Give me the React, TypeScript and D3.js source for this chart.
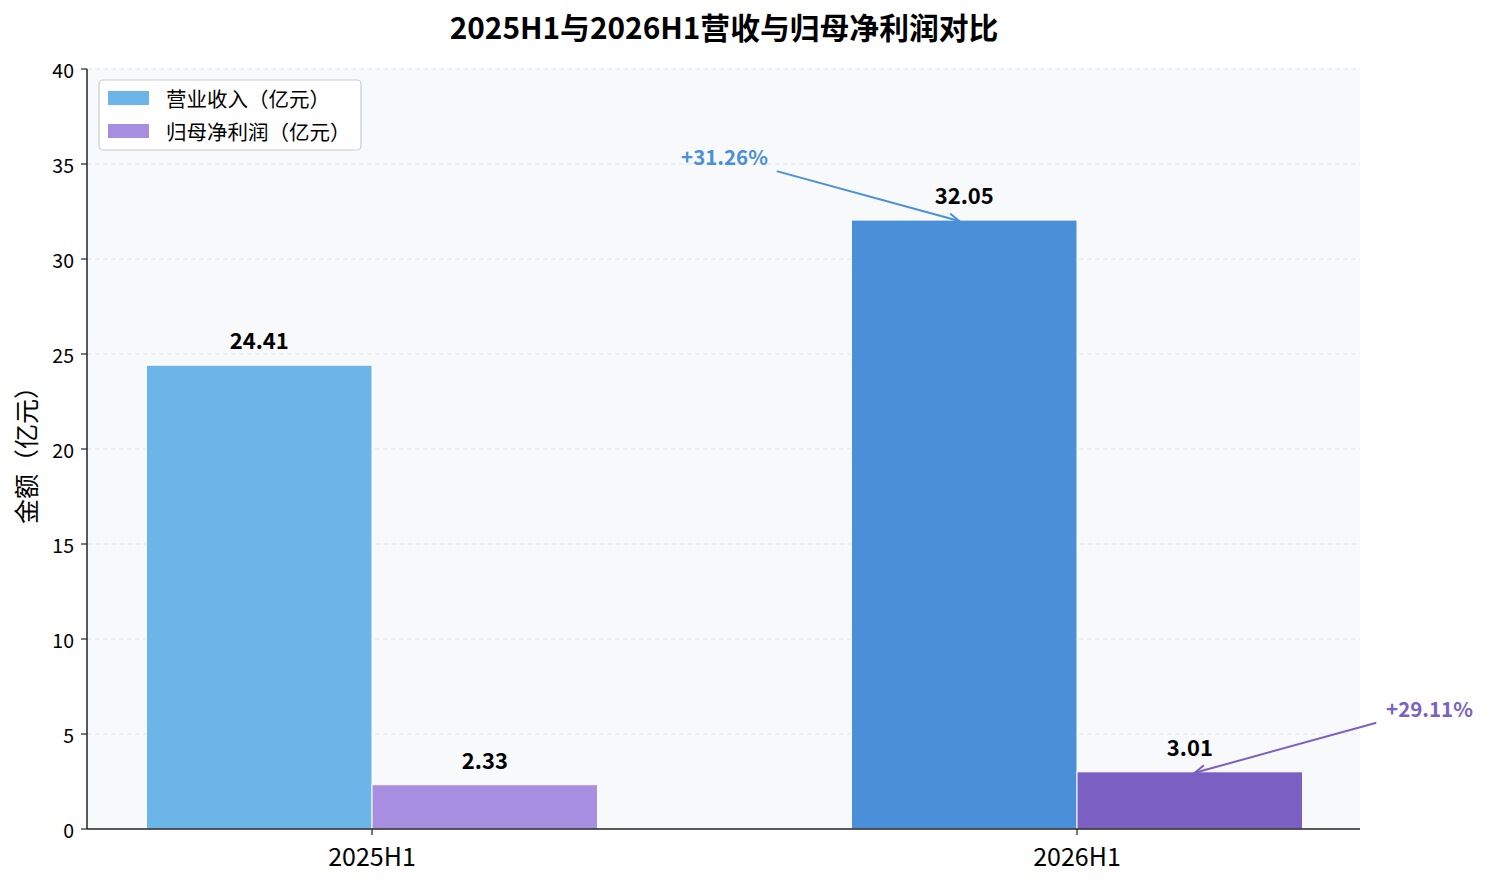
import React from 'react';
import * as d3 from 'd3';

const periods = ['2025H1', '2026H1'];
const revenue = [24.41, 32.05];
const profit = [2.33, 3.01];
const growthLabels = ['+31.26%', '+29.11%'];
const yTicks = [0, 5, 10, 15, 20, 25, 30, 35, 40];
const seriesNames = ['营业收入（亿元）', '归母净利润（亿元）'];

const revenueColors = ['#6bb5e8', '#4a90d9'];
const profitColors = ['#a78ee0', '#7b5fc2'];
const legendColors = ['#6bb5e8', '#a78ee0'];

const W = 1490, H = 885;
const M = { left: 87, right: 1360, top: 69, bottom: 829 };
const FONT = '"Noto Sans CJK SC", "Noto Sans", sans-serif';

export default function App() {
  const x = d3.scaleLinear().domain([-0.4043, 1.4014]).range([M.left, M.right]);
  const y = d3.scaleLinear().domain([0, 40]).range([M.bottom, M.top]);
  const bw = 0.32;
  const idx = periods.map((_, i) => i);

  const arrow = (color: string, x1: number, y1: number, x2: number, y2: number, key: string) => {
    const ang = Math.atan2(y2 - y1, x2 - x1);
    const L = 11, a = 0.42;
    const p1 = [x2 - L * Math.cos(ang - a), y2 - L * Math.sin(ang - a)];
    const p2 = [x2 - L * Math.cos(ang + a), y2 - L * Math.sin(ang + a)];
    return (
      <g key={key} stroke={color} strokeWidth={2} fill="none" strokeLinecap="round">
        <line x1={x1} y1={y1} x2={x2} y2={y2} />
        <polyline points={`${p1[0]},${p1[1]} ${x2},${y2} ${p2[0]},${p2[1]}`} />
      </g>
    );
  };

  return (
    <svg width={W} height={H} style={{ position: 'absolute', left: 0, top: 0, background: '#fff' }} fontFamily={FONT}>
      <rect x={M.left} y={M.top} width={M.right - M.left} height={M.bottom - M.top} fill="#f8f9fb" />
      {yTicks.slice(1).map(t => (
        <line key={'g' + t} x1={M.left} x2={M.right} y1={y(t)} y2={y(t)} stroke="#e3e5e8" strokeWidth={1} strokeDasharray="5,3" />
      ))}
      {idx.map(i => (
        <g key={'b' + i}>
          <rect x={x(i - bw)} y={y(revenue[i])} width={x(i) - x(i - bw)} height={y(0) - y(revenue[i])} fill={revenueColors[i]} stroke="#fff" strokeWidth={1} />
          <rect x={x(i)} y={y(profit[i])} width={x(i + bw) - x(i)} height={y(0) - y(profit[i])} fill={profitColors[i]} stroke="#fff" strokeWidth={1} />
          <text x={x(i - bw / 2)} y={y(revenue[i]) - 16} textAnchor="middle" fontSize={22} fontWeight="bold" fill="#000">{revenue[i].toFixed(2)}</text>
          <text x={x(i + bw / 2)} y={y(profit[i]) - 16} textAnchor="middle" fontSize={22} fontWeight="bold" fill="#000">{profit[i].toFixed(2)}</text>
        </g>
      ))}
      {/* growth annotations */}
      <text x={x(0.5)} y={y(35.4)} textAnchor="middle" dominantBaseline="central" fontSize={20.5} fontWeight="bold" fill={revenueColors[1]}>{growthLabels[0]}</text>
      {arrow(revenueColors[1], x(0.5) + 53, y(35.4) + 15, x(1 - bw / 2) - 5, y(revenue[1]) + 1, 'a1')}
      <text x={x(1.5)} y={y(6.37)} textAnchor="middle" dominantBaseline="central" fontSize={20.5} fontWeight="bold" fill={profitColors[1]}>{growthLabels[1]}</text>
      {arrow(profitColors[1], x(1.5) - 54, y(6.37) + 15, x(1 + bw / 2) + 5, y(profit[1]) + 1, 'a2')}

      {/* axes */}
      <line x1={M.left} x2={M.left} y1={M.top} y2={M.bottom} stroke="#222" strokeWidth={1.5} />
      <line x1={M.left} x2={M.right} y1={M.bottom} y2={M.bottom} stroke="#222" strokeWidth={1.5} />
      {yTicks.map(t => (
        <g key={'yt' + t}>
          <line x1={M.left - 6} x2={M.left} y1={y(t)} y2={y(t)} stroke="#222" strokeWidth={1.2} />
          <text x={M.left - 13} y={y(t)} textAnchor="end" dominantBaseline="central" fontSize={19.5} fill="#000">{t}</text>
        </g>
      ))}
      {idx.map(i => (
        <g key={'xt' + i}>
          <line x1={x(i)} x2={x(i)} y1={M.bottom} y2={M.bottom + 6} stroke="#222" strokeWidth={1.2} />
          <text x={x(i)} y={M.bottom + 37} textAnchor="middle" fontSize={25} fill="#000">{periods[i]}</text>
        </g>
      ))}
      <text transform={`translate(36,${(M.top + M.bottom) / 2}) rotate(-90)`} textAnchor="middle" fontSize={25} fill="#000">金额（亿元）</text>

      {/* title */}
      <text x={724} y={39} textAnchor="middle" fontSize={29.8} fontWeight="bold" fill="#000">2025H1与2026H1营收与归母净利润对比</text>

      {/* legend */}
      <rect x={99} y={80} width={262} height={70} rx={4} fill="#fff" fillOpacity={0.85} stroke="#cccccc" strokeWidth={1.2} />
      {seriesNames.map((n, i) => (
        <g key={'l' + i}>
          <rect x={108} y={91 + i * 33} width={41} height={14} fill={legendColors[i]} />
          <text x={166} y={98 + i * 33} dominantBaseline="central" fontSize={20.5} fill="#000">{n}</text>
        </g>
      ))}
    </svg>
  );
}
